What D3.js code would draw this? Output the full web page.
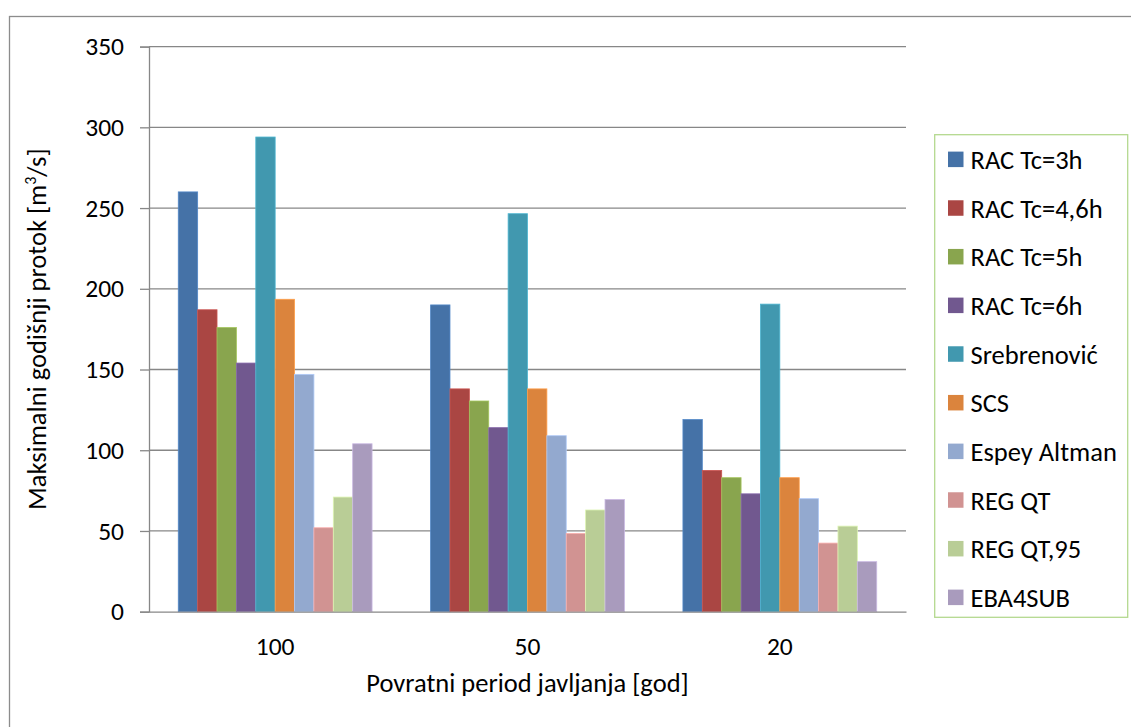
<!DOCTYPE html>
<html>
<head>
<meta charset="utf-8">
<script src="https://cdn.jsdelivr.net/npm/d3@7"></script>
<style>
  html, body { margin: 0; padding: 0; background: #fff; }
  svg { display: block; }
  text { font-family: Carlito, Lato, "Open Sans", sans-serif; fill: #000; }
</style>
</head>
<body>
<svg id="chart" width="1131" height="727"></svg>
<script>
// Return periods (years) on the category axis
const categories = ["100", "50", "20"];

// Methods shown as series
const seriesNames = [
  "RAC Tc=3h", "RAC Tc=4,6h", "RAC Tc=5h", "RAC Tc=6h", "Srebrenović",
  "SCS", "Espey Altman", "REG QT", "REG QT,95", "EBA4SUB"
];

// Peak annual discharge [m3/s] for each method, per return period (100, 50, 20)
const racTc3   = [260, 190, 119];
const racTc46  = [187, 138, 87.5];
const racTc5   = [176, 130.5, 83];
const racTc6   = [154, 114, 73];
const srebrenovic = [294, 246.5, 190.5];
const scs      = [193.5, 138, 83];
const espeyAltman = [147, 109, 70];
const regQT    = [52, 48.5, 42.5];
const regQT95  = [71, 63, 53];
const eba4sub  = [104, 69.5, 31];

const seriesValues = [racTc3, racTc46, racTc5, racTc6, srebrenovic,
                      scs, espeyAltman, regQT, regQT95, eba4sub];

const colors = ["#4572A7", "#AA4643", "#89A54E", "#71588F", "#4198AF",
                "#DB843D", "#93A9CF", "#D19392", "#B9CD96", "#A99BBD"];

const yTicks = [0, 50, 100, 150, 200, 250, 300, 350];

const FONT = "Carlito, Lato, 'Open Sans', sans-serif";
const tickFont = 25.5;
const titleFont = 26.5;
const legendFont = 26.5;

const svg = d3.select("#chart");

// outer chart frame (runs past the right and bottom edges)
svg.append("rect")
  .attr("x", 9.5).attr("y", 16.5)
  .attr("width", 1140).attr("height", 730)
  .attr("fill", "none").attr("stroke", "#8c8c8c").attr("stroke-width", 1.3);

const plot = { left: 149, right: 906, top: 46.6, bottom: 611.7 };

const x0 = d3.scaleBand()
  .domain(categories)
  .range([plot.left, plot.right])
  .paddingInner(0.232)
  .paddingOuter(0.116);

const x1 = d3.scaleBand()
  .domain(d3.range(seriesNames.length))
  .range([0, x0.bandwidth()]);

const y = d3.scaleLinear().domain([0, 350]).range([plot.bottom, plot.top]);

// horizontal gridlines
svg.append("g")
  .selectAll("line")
  .data(yTicks.filter(d => d > 0))
  .join("line")
  .attr("x1", plot.left).attr("x2", plot.right)
  .attr("y1", d => y(d)).attr("y2", d => y(d))
  .attr("stroke", "#878787").attr("stroke-width", 1.3);

// bars
const groups = svg.append("g")
  .selectAll("g")
  .data(categories)
  .join("g")
  .attr("transform", d => `translate(${x0(d)},0)`);

groups.selectAll("rect")
  .data((c, ci) => seriesValues.map((vals, si) => ({ si, v: vals[ci] })))
  .join("rect")
  .attr("x", d => x1(d.si))
  .attr("y", d => y(d.v))
  .attr("width", x1.bandwidth())
  .attr("height", d => y(0) - y(d.v))
  .attr("fill", d => colors[d.si])
  .attr("stroke", d => d3.color(colors[d.si]).brighter(0.5))
  .attr("stroke-width", 0.8);

// y axis
const yAxis = d3.axisLeft(y).tickValues(yTicks).tickSize(9).tickPadding(16);
const gy = svg.append("g")
  .attr("transform", `translate(${plot.left},0)`)
  .call(yAxis);
gy.select(".domain").attr("stroke", "#878787").attr("stroke-width", 1.3);
gy.selectAll(".tick line").attr("stroke", "#878787").attr("stroke-width", 1.3);
gy.selectAll(".tick text").attr("font-size", tickFont).attr("fill", "#000")
  .style("font-family", FONT);

// x axis
const xAxis = d3.axisBottom(x0).tickSize(0).tickPadding(25);
const gx = svg.append("g")
  .attr("transform", `translate(0,${plot.bottom})`)
  .call(xAxis);
gx.select(".domain").attr("stroke", "#878787").attr("stroke-width", 1.3);
gx.selectAll(".tick text").attr("font-size", tickFont).attr("fill", "#000")
  .style("font-family", FONT);

// axis titles
svg.append("text")
  .attr("x", (plot.left + plot.right) / 2)
  .attr("y", 692)
  .attr("text-anchor", "middle")
  .attr("font-size", titleFont)
  .text("Povratni period javljanja [god]");

const yTitle = svg.append("text")
  .attr("transform", `translate(46,${(plot.top + plot.bottom) / 2}) rotate(-90)`)
  .attr("text-anchor", "middle")
  .attr("font-size", titleFont);
yTitle.append("tspan").text("Maksimalni godišnji protok [m");
yTitle.append("tspan").attr("font-size", 16).attr("dy", -10).text("3");
yTitle.append("tspan").attr("dy", 10).text("/s]");

// legend
const legend = svg.append("g");
legend.append("rect")
  .attr("x", 934.7).attr("y", 134.7)
  .attr("width", 193).attr("height", 482.6)
  .attr("fill", "#fff").attr("stroke", "#b4d98f").attr("stroke-width", 1.3);

const legendY = d3.scalePoint()
  .domain(d3.range(seriesNames.length))
  .range([159.3, 597.3]);

const items = legend.selectAll("g.item")
  .data(seriesNames)
  .join("g")
  .attr("class", "item")
  .attr("transform", (d, i) => `translate(948,${legendY(i)})`);

items.append("rect")
  .attr("x", 0).attr("y", -7.7)
  .attr("width", 15.5).attr("height", 15.5)
  .attr("fill", (d, i) => colors[i]);

items.append("text")
  .attr("x", 22.5).attr("y", 0)
  .attr("dy", "0.36em")
  .attr("font-size", legendFont)
  .text(d => d);
</script>
</body>
</html>
